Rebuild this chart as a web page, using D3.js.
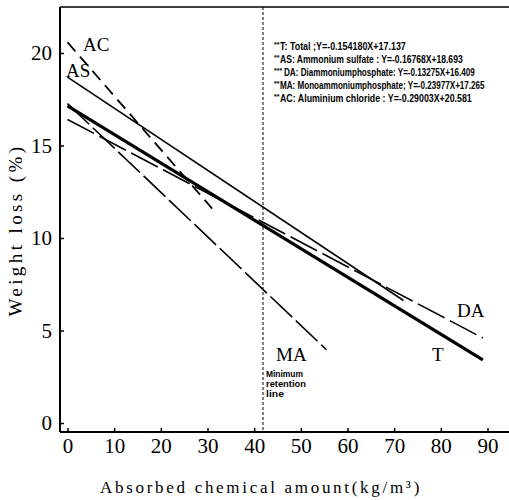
<!DOCTYPE html>
<html><head><meta charset="utf-8">
<script src="https://cdn.jsdelivr.net/npm/d3@7"></script>
<style>body{margin:0;background:#fff}</style>
</head><body><svg id="c" width="509" height="500"></svg>
<script>
// Data
const seriesCodes = ["T","AS","DA","MA","AC"];
const seriesNames = ["Total","Ammonium sulfate","Diammoniumphosphate","Monoammoniumphosphate","Aluminium chloride"];
const slopes = [-0.154180,-0.16768,-0.13275,-0.23977,-0.29003];
const intercepts = [17.137,18.693,16.409,17.265,20.581];
const xStart = [0,0,0,0,0];
const xEnd = [89,72,89,55.5,31];
const eqText = ["Y=-0.154180X+17.137","Y=-0.16768X+18.693","Y=-0.13275X+16.409","Y=-0.23977X+17.265","Y=-0.29003X+20.581"];
const legendStars = ["**","**","***","**","**"];
const legendSep = [" ;"," : ",": ","; "," : "];
const xTicks = [0,10,20,30,40,50,60,70,80,90];
const yTicks = [0,5,10,15,20];
const minRetention = 42;
const minRetentionText = ["Minimum","retention","line"];

(function(){
const svg = d3.select("#c");
const x = d3.scaleLinear().domain([0,90]).range([67.5,487.5]);
const y = d3.scaleLinear().domain([0,20]).range([423,53]);
const L = 60, T = 7, B = 432, R = 509;
const serif = "'Liberation Serif','DejaVu Serif',serif";
const sans = "'Liberation Sans','DejaVu Sans',sans-serif";

// helper: text squeezed horizontally to a target width
function squeezed(px, py, str, size, width){
  const g = svg.append("g").attr("transform",`translate(${px},${py})`);
  const t = g.append("text").attr("x",0).attr("y",0).text(str)
    .attr("font-family",sans).attr("font-weight","bold").attr("font-size",size).attr("fill","#000");
  const w = t.node().getComputedTextLength();
  g.attr("transform",`translate(${px},${py}) scale(${width/w},1)`);
  return g;
}

// frame
svg.append("line").attr("x1",L).attr("x2",L).attr("y1",T).attr("y2",B).attr("stroke","#000").attr("stroke-width",2);
svg.append("line").attr("x1",L).attr("x2",R).attr("y1",T).attr("y2",T).attr("stroke","#000").attr("stroke-width",1.5);
svg.append("line").attr("x1",L).attr("x2",R).attr("y1",B).attr("y2",B).attr("stroke","#000").attr("stroke-width",2);

// x axis
const xa = svg.append("g").attr("transform",`translate(0,${B})`)
  .call(d3.axisBottom(x).tickValues(xTicks).tickSize(-4).tickPadding(20).tickFormat(d3.format("d")));
xa.select(".domain").remove();
xa.selectAll("line").attr("stroke","#000").attr("stroke-width",1.5);
xa.selectAll("text").attr("font-family",serif).attr("font-size",21).attr("fill","#000").attr("dy","0.05em");

// y axis
const ya = svg.append("g").attr("transform",`translate(${L},0)`)
  .call(d3.axisRight(y).tickValues(yTicks).tickSize(4).tickFormat(d3.format("d")));
ya.select(".domain").remove();
ya.selectAll("line").attr("stroke","#000").attr("stroke-width",1.5);
ya.selectAll("text").attr("x",-8).attr("text-anchor","end").attr("font-family",serif).attr("font-size",21).attr("fill","#000");

// vertical minimum retention line
svg.append("line").attr("x1",x(minRetention)-0.5).attr("x2",x(minRetention)-0.5).attr("y1",T).attr("y2",B)
  .attr("stroke","#000").attr("stroke-width",1).attr("stroke-dasharray","3,2");

// regression lines
const styles = {
  T:{w:3.2,dash:null},
  AS:{w:1.6,dash:null},
  DA:{w:1.6,dash:"30,6"},
  MA:{w:1.6,dash:"30,5"},
  AC:{w:1.8,dash:"12,7"}
};
const line = d3.line().x(d=>x(d[0])).y(d=>y(d[1]));
seriesCodes.forEach((c,i)=>{
  const pts = [xStart[i], xEnd[i]].map(v=>[v, slopes[i]*v+intercepts[i]]);
  svg.append("path").attr("d",line(pts)).attr("fill","none").attr("stroke","#000")
    .attr("stroke-width",styles[c].w).attr("stroke-dasharray",styles[c].dash).attr("stroke-linecap","butt");
});

// line labels
const lab = (t,px,py)=>svg.append("text").attr("x",px).attr("y",py).text(t)
  .attr("font-family",serif).attr("font-size",19).attr("fill","#000");
lab("AC",83,51); lab("AS",66,77); lab("DA",457,317); lab("T",432,361); lab("MA",276,361);

// minimum retention text
const mrW = [37,40,18];
minRetentionText.forEach((t,i)=>squeezed(266, 377+i*10, t, 8.5, mrW[i]));

// legend
const legW = [126,183,191,205,192];
seriesCodes.forEach((c,i)=>{
  const by = 50 + i*13;
  svg.append("text").attr("x",274).attr("y",by-3).text(legendStars[i])
    .attr("font-family",sans).attr("font-weight","bold").attr("font-size",7).attr("fill","#000");
  squeezed(i===2?284:280, by, `${c}: ${seriesNames[i]}${legendSep[i]}${eqText[i]}`, 10, legW[i]);
});

// axis titles
svg.append("text").attr("x",261).attr("y",493).attr("text-anchor","middle")
  .attr("font-family",serif).attr("font-size",17).attr("letter-spacing",2.7).attr("fill","#000")
  .text("Absorbed chemical amount(kg/m³)");
svg.append("text").attr("transform","translate(22,230) rotate(-90)").attr("text-anchor","middle")
  .attr("font-family",serif).attr("font-size",19).attr("letter-spacing",3.4).attr("fill","#000")
  .text("Weight loss (%)");
})();
</script></body></html>
